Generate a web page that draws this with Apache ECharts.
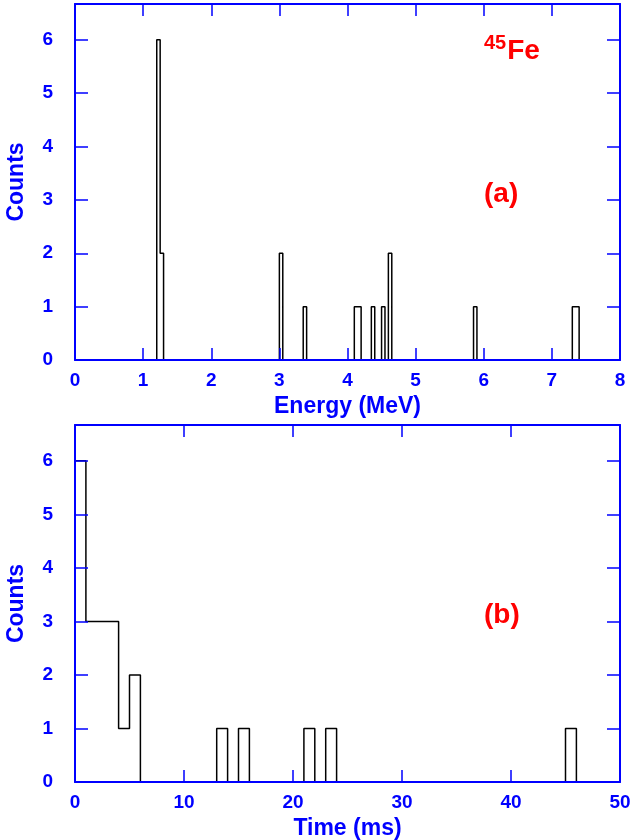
<!DOCTYPE html>
<html>
<head>
<meta charset="utf-8">
<script src="https://cdn.jsdelivr.net/npm/echarts@6/dist/echarts.min.js"></script>
<style>
  html, body { margin: 0; padding: 0; background: #fff; }
  #main { width: 633px; height: 840px; }
</style>
</head>
<body>
<div id="main"></div>
<script>
// (a) energy spectrum, 0.05 MeV bins: left edge of each non-empty bin and its count
var energyBinWidth = 0.05;
var energyBins = [1.20, 1.25, 3.00, 3.35, 4.10, 4.15, 4.35, 4.50, 4.60, 5.85, 7.30, 7.35];
var energyCounts = [6, 2, 2, 1, 1, 1, 1, 1, 2, 1, 1, 1];

// (b) decay time, 1 ms bins, 0..50 ms
var timeCounts = [6, 3, 3, 3, 1, 2, 0, 0, 0, 0,
                  0, 0, 0, 1, 0, 1, 0, 0, 0, 0,
                  0, 1, 0, 1, 0, 0, 0, 0, 0, 0,
                  0, 0, 0, 0, 0, 0, 0, 0, 0, 0,
                  0, 0, 0, 0, 0, 1, 0, 0, 0, 0];
var timeBinWidth = 1;

var energyTicks = [0, 1, 2, 3, 4, 5, 6, 7, 8];
var timeTicks = [0, 10, 20, 30, 40, 50];
var countTicks = [0, 1, 2, 3, 4, 5, 6];

var blue = '#0000ff';
var red = '#ff0000';
var font = 'Liberation Sans, Arial, Helvetica, sans-serif';

// histogram outline as step points [edge, count]
function stepPoints(counts, width) {
  var pts = [];
  for (var i = 0; i < counts.length; i++) {
    pts.push([+(i * width).toFixed(4), counts[i]]);
  }
  pts.push([+(counts.length * width).toFixed(4), 0]);
  return pts;
}

var nE = Math.round(energyTicks[energyTicks.length - 1] / energyBinWidth);
var energyHist = [];
for (var i = 0; i < nE; i++) energyHist.push(0);
energyBins.forEach(function (e, k) {
  energyHist[Math.round(e / energyBinWidth)] = energyCounts[k];
});

function xAx(grid, ticks, name, mirror) {
  return {
    type: 'value', gridIndex: grid, position: mirror ? 'top' : 'bottom',
    min: ticks[0], max: ticks[ticks.length - 1], interval: ticks[1] - ticks[0],
    z: 5,
    name: mirror ? '' : name, nameLocation: 'middle', nameGap: 35,
    nameTextStyle: { color: blue, fontFamily: font, fontWeight: 'bold', fontSize: 23 },
    axisLine: { show: true, onZero: false, lineStyle: { color: blue, width: 2 } },
    axisTick: { show: true, inside: true, length: 12, lineStyle: { color: blue, width: 1.5 } },
    axisLabel: { show: !mirror, color: blue, fontFamily: font, fontWeight: 'bold', fontSize: 19, margin: 11 },
    splitLine: { show: false }
  };
}

function yAx(grid, mirror) {
  return {
    type: 'value', gridIndex: grid, position: mirror ? 'right' : 'left',
    min: 0, max: 6.67, interval: 1,
    z: 5,
    name: mirror ? '' : 'Counts', nameLocation: 'middle', nameGap: 47,
    nameTextStyle: { color: blue, fontFamily: font, fontWeight: 'bold', fontSize: 23 },
    axisLine: { show: true, onZero: false, lineStyle: { color: blue, width: 2 } },
    axisTick: { show: true, inside: true, length: 13, lineStyle: { color: blue, width: 1.5 } },
    axisLabel: {
      show: !mirror, color: blue, fontFamily: font, fontWeight: 'bold', fontSize: 19, margin: 22,
      formatter: function (v) { return countTicks.indexOf(v) >= 0 ? String(v) : ''; }
    },
    splitLine: { show: false }
  };
}

var chart = echarts.init(document.getElementById('main'));
chart.setOption({
  animation: false,
  backgroundColor: '#fff',
  grid: [
    { left: 75, right: 13, top: 4, height: 356, outerBoundsMode: 'none', containLabel: false },
    { left: 75, right: 13, top: 425, height: 357, outerBoundsMode: 'none', containLabel: false }
  ],
  xAxis: [
    xAx(0, energyTicks, 'Energy (MeV)', false),
    xAx(0, energyTicks, '', true),
    xAx(1, timeTicks, 'Time (ms)', false),
    xAx(1, timeTicks, '', true)
  ],
  yAxis: [yAx(0, false), yAx(0, true), yAx(1, false), yAx(1, true)],
  series: [
    {
      type: 'line', xAxisIndex: 0, yAxisIndex: 0, step: 'end', symbol: 'none',
      lineStyle: { color: '#000', width: 1.5 },
      data: stepPoints(energyHist, energyBinWidth)
    },
    {
      type: 'line', xAxisIndex: 2, yAxisIndex: 2, step: 'end', symbol: 'none',
      lineStyle: { color: '#000', width: 1.5 },
      data: stepPoints(timeCounts, timeBinWidth)
    }
  ],
  graphic: [
    {
      type: 'text', left: 484, top: 33,
      style: {
        text: '{s|45}{b|Fe}',
        rich: {
          s: { fontSize: 20, fontWeight: 'bold', fontFamily: font, fill: red, verticalAlign: 'top', padding: [0, 1, 12, 0] },
          b: { fontSize: 28, fontWeight: 'bold', fontFamily: font, fill: red, verticalAlign: 'bottom' }
        }
      }
    },
    {
      type: 'text', left: 484, top: 180,
      style: { text: '(a)', fontSize: 28, fontWeight: 'bold', fontFamily: font, fill: red }
    },
    {
      type: 'text', left: 484, top: 601,
      style: { text: '(b)', fontSize: 28, fontWeight: 'bold', fontFamily: font, fill: red }
    }
  ]
});
</script>
</body>
</html>
